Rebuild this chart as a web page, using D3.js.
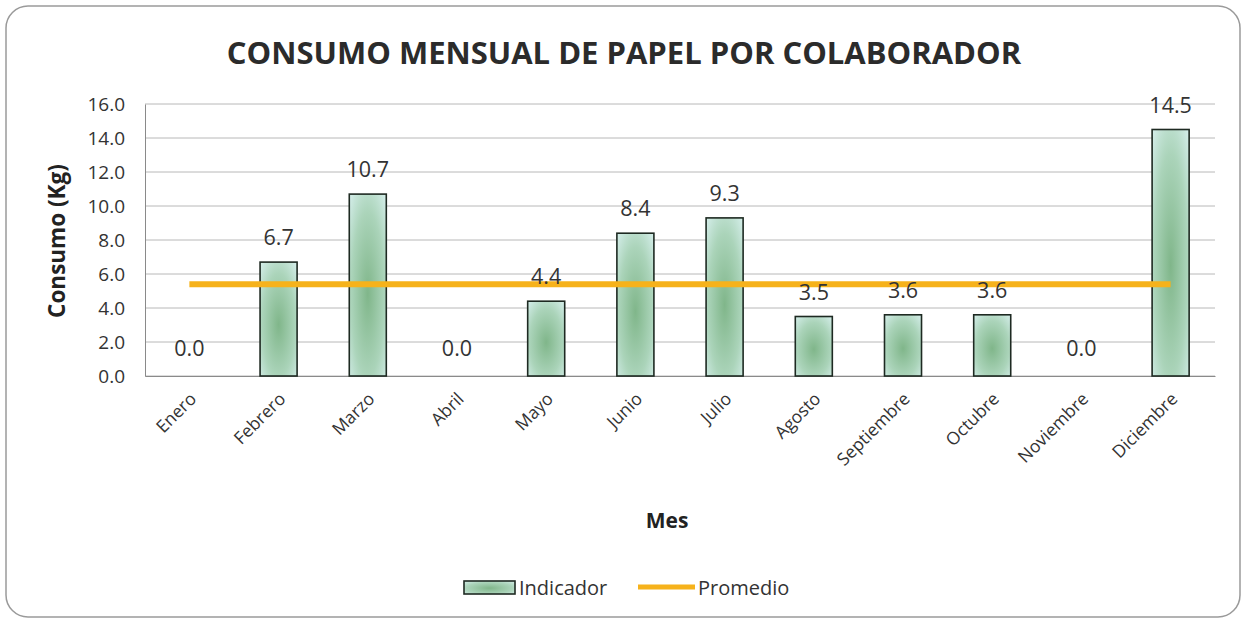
<!DOCTYPE html>
<html><head><meta charset="utf-8">
<script src="https://cdn.jsdelivr.net/npm/d3@7"></script>
<style>body{margin:0;background:#fff}svg{display:block}text{font-family:"Open Sans","Noto Sans",sans-serif}</style>
</head><body><svg id="c" width="1246" height="621"></svg>
<script>
const months = ["Enero","Febrero","Marzo","Abril","Mayo","Junio","Julio","Agosto","Septiembre","Octubre","Noviembre","Diciembre"];
const indicador = [0.0,6.7,10.7,0.0,4.4,8.4,9.3,3.5,3.6,3.6,0.0,14.5];
const promedio = [5.4,5.4,5.4,5.4,5.4,5.4,5.4,5.4,5.4,5.4,5.4,5.4];
const yTicks = [0,2,4,6,8,10,12,14,16];

const svg = d3.select("#c");
const M = {l:145, r:1215, t:104, b:376};
const x = d3.scaleBand().domain(months).range([M.l, M.r]).paddingInner(0.585).paddingOuter(0.29);
const y = d3.scaleLinear().domain([0,16]).range([M.b, M.t]);

const defs = svg.append("defs");
const g = defs.append("radialGradient").attr("id","bg").attr("cx","0.5").attr("cy","0.55").attr("r","0.75");
g.append("stop").attr("offset","0").attr("stop-color","#80b68a");
g.append("stop").attr("offset","0.6").attr("stop-color","#abd4ba");
g.append("stop").attr("offset","1").attr("stop-color","#d8f0ee");

// frame
svg.append("rect").attr("x",6).attr("y",6).attr("width",1234).attr("height",611).attr("rx",22)
  .attr("fill","#fff").attr("stroke","#9a9a9a").attr("stroke-width",1.5);

// title
svg.append("text").attr("x",624).attr("y",64).attr("text-anchor","middle")
  .attr("font-size",31).attr("font-weight","bold").attr("fill","#2b2b2b")
  .text("CONSUMO MENSUAL DE PAPEL POR COLABORADOR");

// grid
svg.append("g").selectAll("line").data(yTicks).join("line")
  .attr("x1",M.l).attr("x2",M.r).attr("y1",d=>y(d)).attr("y2",d=>y(d))
  .attr("stroke","#b8b8b8").attr("stroke-width",1);

// y axis
const ya = svg.append("g").attr("transform",`translate(${M.l},0)`)
  .call(d3.axisLeft(y).tickValues(yTicks).tickFormat(d3.format(".1f")).tickSize(0).tickPadding(20));
ya.select(".domain").attr("stroke","#8a8a8a");
ya.selectAll("text").attr("font-size",19).attr("fill","#333").attr("font-family","'Open Sans',sans-serif");

// x axis
const xa = svg.append("g").attr("transform",`translate(0,${M.b})`)
  .call(d3.axisBottom(x).tickSize(0).tickPadding(0));
xa.select(".domain").attr("stroke","#8a8a8a");
xa.selectAll("text").attr("font-size",17.5).attr("fill","#333").attr("font-family","'Open Sans',sans-serif")
  .attr("text-anchor","end").attr("transform","translate(8,24) rotate(-45)").attr("dy","0");

// bars
svg.append("g").selectAll("rect").data(months.map((m,i)=>({m,v:indicador[i]})).filter(d=>d.v>0)).join("rect")
  .attr("x",d=>x(d.m)).attr("width",x.bandwidth()).attr("y",d=>y(d.v)).attr("height",d=>y(0)-y(d.v))
  .attr("fill","url(#bg)").attr("stroke","#1e2a22").attr("stroke-width",1.6);

// average line
const line = d3.line().x((d,i)=>x(months[i])+x.bandwidth()/2).y(d=>y(d));
svg.append("path").datum(promedio).attr("d",line).attr("fill","none")
  .attr("stroke","#f6b21b").attr("stroke-width",6);

// labels
svg.append("g").selectAll("text").data(months.map((m,i)=>({m,v:indicador[i]}))).join("text")
  .attr("x",d=>x(d.m)+x.bandwidth()/2).attr("y",d=>y(d.v)-(d.v===0?20:17))
  .attr("text-anchor","middle").attr("font-size",21.5).attr("fill","#333")
  .text(d=>d3.format(".1f")(d.v));

// axis titles
svg.append("text").attr("transform","translate(65,241) rotate(-90)").attr("text-anchor","middle")
  .attr("font-size",22.5).attr("font-weight","bold").attr("fill","#222").text("Consumo (Kg)");
svg.append("text").attr("x",667).attr("y",528).attr("text-anchor","middle")
  .attr("font-size",21).attr("font-weight","bold").attr("fill","#222").text("Mes");

// legend
const lg = svg.append("g");
lg.append("rect").attr("x",464).attr("y",581).attr("width",51).attr("height",13)
  .attr("fill","url(#bg)").attr("stroke","#1e2a22").attr("stroke-width",1.6);
lg.append("text").attr("x",519).attr("y",595).attr("font-size",20).attr("fill","#333").text("Indicador");
lg.append("line").attr("x1",638).attr("x2",695).attr("y1",587).attr("y2",587)
  .attr("stroke","#f6b21b").attr("stroke-width",5);
lg.append("text").attr("x",698).attr("y",595).attr("font-size",20).attr("fill","#333").text("Promedio");
</script></body></html>
